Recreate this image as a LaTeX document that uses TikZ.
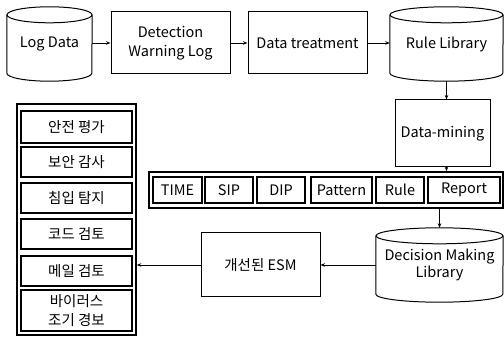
\documentclass[tikz,border=0pt]{standalone}
\usepackage{fontspec}
\setmainfont{Noto Sans CJK KR}
\usetikzlibrary{arrows.meta,calc}
\tikzset{
  base/.style={font=\fontsize{14.5}{19.5}\selectfont, align=center, inner sep=0pt},
  plainbox/.style={base, draw, line width=1pt, rectangle},
  thickbox/.style={base, draw, line width=1.6pt, rectangle},
  cylnode/.style={base, rectangle},
  cylline/.style={line width=1pt},
  conn/.style={line width=0.8pt, -{Stealth[length=4.5pt,width=3.5pt]}},
  plainconn/.style={line width=0.8pt}
}
\newcommand\drawcyl[3]{%
  \draw[cylline] ([yshift=-#3]#1.north west) -- ([yshift=#3]#1.south west)
    arc[start angle=180, end angle=360, x radius=#2, y radius=#3]
    -- ([yshift=-#3]#1.north east);
  \draw[cylline] ([yshift=-#3]#1.north) ellipse[x radius=#2, y radius=#3];
}
\begin{document}
\begin{tikzpicture}[x=1pt,y=1pt]
\useasboundingbox (0,0) rectangle (504,345);
% cylinders
\node[cylnode, minimum width=85, minimum height=74] (logdata) at (49.5,301) {\raisebox{-3pt}{Log Data}};
\drawcyl{logdata}{42.5pt}{8pt}
\node[cylnode, minimum width=113, minimum height=74] (rulelib) at (446.5,301) {\raisebox{-3pt}{Rule Library}};
\drawcyl{rulelib}{56.5pt}{8pt}
\node[cylnode, minimum width=127, minimum height=74] (dml) at (439.5,80) {\raisebox{-4pt}{\begin{tabular}{@{}c@{}}Decision Making\\[-3pt]Library\end{tabular}}};
\drawcyl{dml}{63.5pt}{8pt}
% boxes
\node[plainbox, minimum width=119, minimum height=62] (detect) at (170.5,302) {Detection\\Warning Log};
\node[plainbox, minimum width=119, minimum height=62] (treat) at (307.5,302) {Data treatment};
\node[plainbox, minimum width=95, minimum height=67] (mining) at (442.5,211.5) {Data-mining};
\node[plainbox, minimum width=119, minimum height=64] (esm) at (260.5,80) {개선된 ESM};
% fields
\node[thickbox, minimum width=354, minimum height=36] (fieldsbox) at (326,155) {};
\node[thickbox, minimum width=49, minimum height=26] (ftime) at (177.5,155) {TIME};
\node[thickbox, minimum width=48, minimum height=26] (fsip) at (229,155) {SIP};
\node[thickbox, minimum width=48, minimum height=26] (fdip) at (281,155) {DIP};
\node[thickbox, minimum width=61, minimum height=26] (fpattern) at (341.5,155) {Pattern};
\node[thickbox, minimum width=48, minimum height=26] (frule) at (400,155) {Rule};
\node[thickbox, minimum width=72, minimum height=26] (freport) at (464,155) {Report};
% list
\node[thickbox, minimum width=119, minimum height=231] (listbox) at (76.5,125.5) {};
\node[thickbox, minimum width=111, minimum height=32] (s1) at (76.5,218) {안전 평가};
\node[thickbox, minimum width=111, minimum height=30] (s2) at (76.5,183) {보안 감사};
\node[thickbox, minimum width=111, minimum height=30] (s3) at (76.5,147) {침입 탐지};
\node[thickbox, minimum width=111, minimum height=30] (s4) at (76.5,111) {코드 검토};
\node[thickbox, minimum width=111, minimum height=30] (s5) at (76.5,74) {메일 검토};
\node[thickbox, minimum width=111, minimum height=41] (s6) at (76.5,34.5) {\fontsize{14.5}{18}\selectfont 바이러스\\조기 경보};
% connectors
\draw[conn] (detect.west -| logdata.east) -- (detect.west);
\draw[conn] (detect.east) -- (treat.west);
\draw[conn] (treat.east) -- (treat.east -| rulelib.west);
\draw[conn] (rulelib.south) -- (rulelib.south |- mining.north);
\draw[conn] (rulelib.south |- mining.south) -- (rulelib.south |- fieldsbox.north);
\draw[conn] (dml.north |- fieldsbox.south) -- (dml.north);
\draw[conn] (dml.west) -- (esm.east);
\draw[conn] (esm.west) -- (esm.west -| listbox.east);
\end{tikzpicture}
\end{document}
